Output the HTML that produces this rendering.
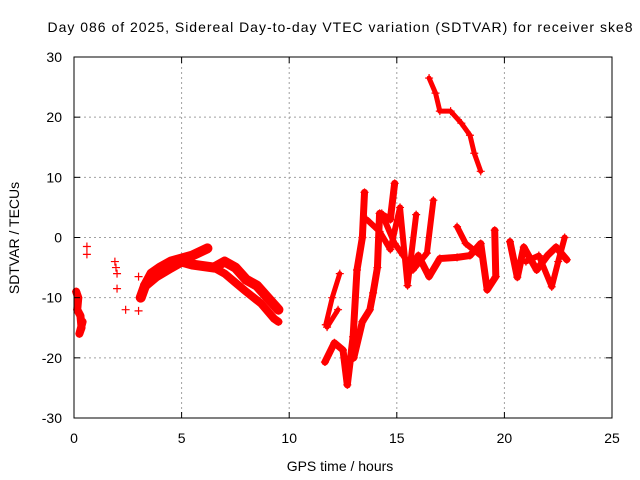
<!DOCTYPE html>
<html><head><meta charset="utf-8"><style>
body{margin:0;background:#fff}
svg{display:block;font-family:"Liberation Sans",sans-serif}
</style></head><body>
<svg id="chart" width="640" height="480">
<rect width="640" height="480" fill="#fff"/>
<g id="grid"></g><g id="marks"></g><g id="axes"></g>
<text x="340" y="32" font-size="14" text-anchor="middle" textLength="585">Day 086 of 2025, Sidereal Day-to-day VTEC variation (SDTVAR) for receiver ske8</text>
<text x="340" y="471" font-size="14" text-anchor="middle">GPS time / hours</text>
<text transform="translate(19,238) rotate(-90)" font-size="14" text-anchor="middle">SDTVAR / TECUs</text>
</svg>
<script>
const xTicks=[0,5,10,15,20,25];
const yTicks=[-30,-20,-10,0,10,20,30];
const trackA_t=[0.1,0.2,0.15,0.3,0.35,0.25,0.4];
const trackA_v=[-9,-10,-12,-13,-15,-16,-14];
const trackB_t=[0.6,0.6,1.9,1.95,2.0,2.0,2.4,3.0,3.0];
const trackB_v=[-1.5,-2.8,-4,-5,-6,-8.5,-12,-12.2,-6.5];
const arcUp_t=[3.1,3.3,3.6,4.0,4.5,5.0,5.5,6.2];
const arcUp_v=[-10,-8,-6,-5,-4,-3.5,-3,-1.8];
const arcLow_t=[3.3,3.8,4.5,5.0,5.5,6.5,7.0,7.5,8.0,8.5,9.0,9.5];
const arcLow_v=[-8,-6.5,-5,-4,-4.5,-5,-4,-5,-7,-8,-10,-12];
const arcLow2_t=[6.5,7.0,7.5,8.0,8.7,9.3,9.5];
const arcLow2_v=[-5,-6,-7.5,-9,-11,-13.5,-14];
const segC1_t=[11.7,12.0,12.35];
const segC1_v=[-14.5,-10,-6];
const segC2_t=[11.76,12.27];
const segC2_v=[-14.9,-12];
const loop_t=[11.66,12.1,12.5,12.7,12.97,13.15,13.4,13.5];
const loop_v=[-20.7,-17.5,-18.7,-24.5,-16.5,-5.4,0,7.5];
const band_t=[13.0,13.4,13.75,13.9,14.1,14.2,14.7,14.9];
const band_v=[-20,-14,-12,-9.2,-5,4,3,9];
const mid1_t=[13.6,14.2,14.7,15.15,15.5,15.9];
const mid1_v=[3,1,-2,5,-8,3.8];
const mid2_t=[14.3,14.9,15.3,15.75,16.4,16.7];
const mid2_v=[4,-1,-3,-5.4,-2.6,6.2];
const mid3_t=[15.5,16.0,16.5,17.0,17.8,18.4,18.9,19.2,19.6,19.55];
const mid3_v=[-6,-3,-6.5,-3.5,-3.3,-3,-1,-8.7,-6.5,1.2];
const mid4_t=[17.8,18.2,18.9];
const mid4_v=[1.8,-1,-3];
const right_t=[20.26,20.6,20.9,21.5,22.0,22.4,22.9];
const right_v=[-0.7,-6.6,-1.6,-5.4,-3,-1.6,-3.7];
const right2_t=[21.0,21.6,22.2,22.5,22.8];
const right2_v=[-4,-3,-8.2,-4,0];
const top_t=[16.5,16.8,17.0,17.5,18.0,18.4,18.6,18.9];
const top_v=[26.5,24,21,21,19,17,14,11];
const tracks=[[trackA_t,trackA_v,8],[trackB_t,trackB_v,0],[arcUp_t,arcUp_v,10],[arcLow_t,arcLow_v,10],[arcLow2_t,arcLow2_v,8],[segC1_t,segC1_v,5],[segC2_t,segC2_v,5],[loop_t,loop_v,7],[band_t,band_v,7],[mid1_t,mid1_v,6],[mid2_t,mid2_v,6],[mid3_t,mid3_v,7],[mid4_t,mid4_v,6],[right_t,right_v,7],[right2_t,right2_v,6],[top_t,top_v,5]];
const X0=74,X1=612,Y0=418,Y1=57;
const xs=t=>X0+(t-0)/(25-0)*(X1-X0);
const ys=v=>Y0-(v+30)/60*(Y0-Y1);
const NS="http://www.w3.org/2000/svg";
function mk(tag,attrs,parent){const e=document.createElementNS(NS,tag);for(const k in attrs)e.setAttribute(k,attrs[k]);parent.appendChild(e);return e;}
const grid=document.getElementById('grid'),axes=document.getElementById('axes'),marks=document.getElementById('marks');
xTicks.forEach(t=>{
 const x=xs(t);
 if(t>0&&t<25){const g=mk('line',{x1:x,x2:x,y1:Y1,y2:Y0,stroke:'#a0a0a0','stroke-dasharray':'2,3'},grid);
 
 }
 mk('line',{x1:x,x2:x,y1:Y0,y2:Y0-6,stroke:'#000'},axes);
 mk('line',{x1:x,x2:x,y1:Y1,y2:Y1+6,stroke:'#000'},axes);
 const l=mk('text',{x:x,y:443,'font-size':14,'text-anchor':'middle'},axes);l.textContent=t;
 
 
});
yTicks.forEach(v=>{
 const y=ys(v);
 if(v>-30&&v<30){const g=mk('line',{x1:X0,x2:X1,y1:y,y2:y,stroke:'#a0a0a0','stroke-dasharray':'2,3'},grid);
 
 }
 mk('line',{x1:X0,x2:X0+6,y1:y,y2:y,stroke:'#000'},axes);
 mk('line',{x1:X1,x2:X1-6,y1:y,y2:y,stroke:'#000'},axes);
 const l=mk('text',{x:62,y:y+5,'font-size':14,'text-anchor':'end'},axes);l.textContent=v;
 
 
});
const b=mk('rect',{x:X0,y:Y1,width:X1-X0,height:Y0-Y1,fill:'none',stroke:'#000'},axes);


tracks.forEach(([T,V,w])=>{
 if(w>0){const pl=mk('polyline',{points:T.map((t,i)=>xs(t)+','+ys(V[i])).join(' '),fill:'none',stroke:'#f00','stroke-width':w,'stroke-linejoin':'round','stroke-linecap':'round'},marks);
 
 }
 T.forEach((t,i)=>{const x=xs(t),y=ys(V[i]);
  const p=mk('path',{d:`M${x-4},${y}H${x+4}M${x},${y-4}V${y+4}`,stroke:'#f00','stroke-width':1.2},marks);
  
  });
});
</script>
</body></html>
